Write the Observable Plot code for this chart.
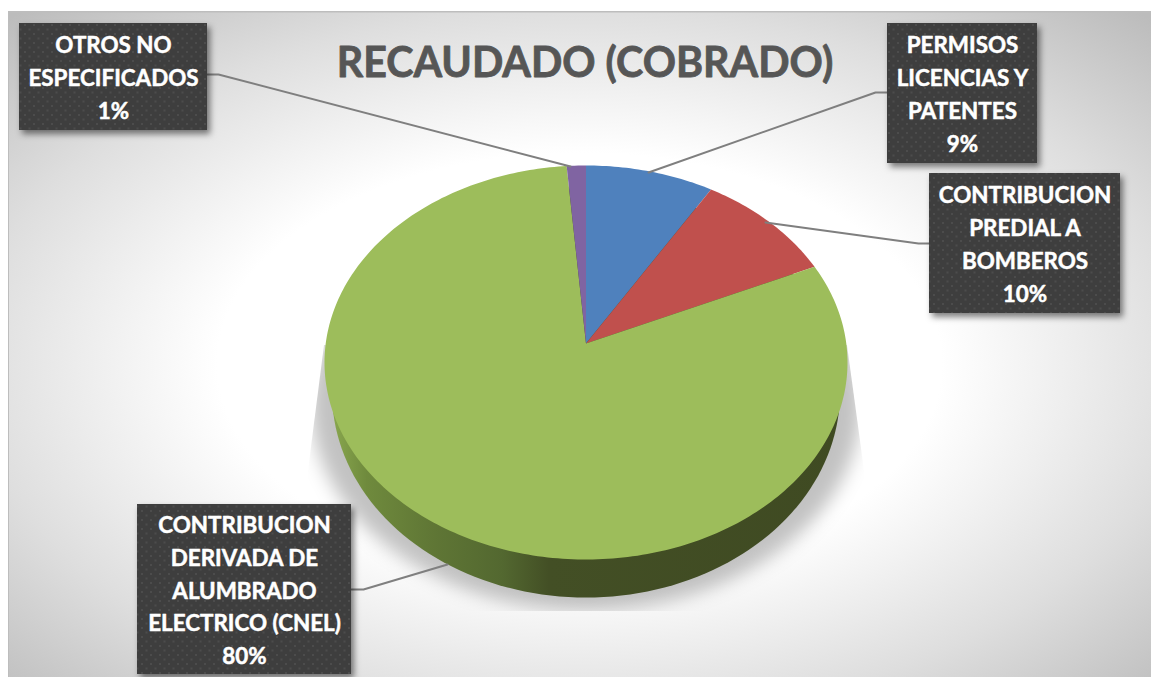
<!DOCTYPE html>
<html>
<head>
<meta charset="utf-8">
<script src="https://cdn.jsdelivr.net/npm/d3@7"></script>
<script src="https://cdn.jsdelivr.net/npm/@observablehq/plot@0.6"></script>
<style>
html,body{margin:0;padding:0;background:#fff;overflow:hidden}
svg{display:block}
</style>
</head>
<body>
<div id="chart"></div>
<script>
// ---- data ----
const chartTitle = "RECAUDADO (COBRADO)";
const categories = ["PERMISOS", "PREDIAL", "CNEL", "OTROS"];
const labelLines = [
  "PERMISOS\nLICENCIAS Y\nPATENTES",
  "CONTRIBUCION\nPREDIAL A\nBOMBEROS",
  "CONTRIBUCION\nDERIVADA DE\nALUMBRADO\nELECTRICO (CNEL)",
  "OTROS NO\nESPECIFICADOS"
];
const shares = [8.7, 9.6, 80.4, 1.3];
const sliceColors = ["#4f81bd", "#c0504d", "#9dbd5b", "#8064a2"];

// ---- layout (screen pixels, converted through the inverse of the plot's scales) ----
const W = 1151, H = 677;
const pie = {x0: 324, x1: 847, y0: 165, y1: 559, tilt: -0.0964};
const toU = d3.scaleLinear([pie.x0, pie.x1], [-1, 1]);
const toV = d3.scaleLinear([pie.y0, pie.y1], [-1, 1]);
const boxes = [
  {x1: 887, x2: 1037, y1: 23, y2: 163},
  {x1: 929, x2: 1120, y1: 173, y2: 313},
  {x1: 137, x2: 351, y1: 504, y2: 674},
  {x1: 19, x2: 207, y1: 23, y2: 130}
];
const leaders = [
  [[887, 92], [875, 92], [648, 172]],
  [[929, 243], [918, 243], [765, 222]],
  [[351, 589], [363, 589], [447, 564]],
  [[207, 74], [218, 74], [570, 166]]
];

// ---- geometry derived from the shares ----
function rimPoint(frac) {
  const a = 2 * Math.PI * frac, u = Math.sin(a), v = -Math.cos(a), k = pie.tilt;
  const d = 1 + k * v;
  return {x: u * Math.sqrt(1 - k * k) / d, y: (v + k) / d};
}
const total = d3.sum(shares);
let running = 0;
const slicePts = categories.flatMap((c, i) => {
  const from = running / total; running += shares[i]; const to = running / total;
  const n = Math.max(4, Math.ceil((to - from) * 360));
  const pts = [{x: 0, y: pie.tilt}];
  for (let j = 0; j <= n; j++) pts.push(rimPoint(from + (to - from) * j / n));
  return pts.map(p => ({...p, category: c}));
});
function ellipse(cx, cy, rx, ry) {
  return d3.range(0, 361, 2).map(t => {
    const a = t * Math.PI / 180;
    return {x: toU(cx) + rx / 261.5 * Math.cos(a), y: toV(cy) + ry / 197 * Math.sin(a)};
  });
}
const rimSide = ellipse(585.5, 392, 254, 205);
const shadowShape = ellipse(585.5, 404, 275, 205);
const boxData = boxes.map((b, i) => ({
  x1: toU(b.x1), x2: toU(b.x2), y1: toV(b.y1), y2: toV(b.y2),
  cx: toU((b.x1 + b.x2) / 2), cy: toV((b.y1 + b.y2) / 2 - 1.5),
  text: labelLines[i] + "\n" + Math.round(shares[i]) + "%"
}));
const leaderPts = leaders.flatMap((l, i) => l.map(p => ({x: toU(p[0]), y: toV(p[1]), id: i})));

const defs = () => {
  const g = document.createElementNS("http://www.w3.org/2000/svg", "defs");
  g.innerHTML = `
  <radialGradient id="bgGrad" cx="0.5" cy="0.53" r="0.72" gradientUnits="objectBoundingBox">
    <stop offset="0" stop-color="#ffffff"/>
    <stop offset="0.44" stop-color="#ffffff"/>
    <stop offset="0.74" stop-color="#dedede"/>
    <stop offset="1" stop-color="#bcbcbc"/>
  </radialGradient>
  <linearGradient id="sideGrad" gradientUnits="userSpaceOnUse" x1="330" x2="850" y1="0" y2="0">
    <stop offset="0" stop-color="#8aa84f"/>
    <stop offset="0.07" stop-color="#6f8a3d"/>
    <stop offset="0.2" stop-color="#5f7635"/>
    <stop offset="0.33" stop-color="#536830"/>
    <stop offset="0.42" stop-color="#434f25"/>
    <stop offset="1" stop-color="#3f4a22"/>
  </linearGradient>
  <pattern id="dots" width="9" height="9" patternUnits="userSpaceOnUse">
    <rect width="9" height="9" fill="#3e3e3e"/>
    <rect x="1.5" y="1.5" width="2" height="2" fill="#4c4c4c"/>
    <rect x="6" y="6" width="2" height="2" fill="#4c4c4c"/>
  </pattern>
  <clipPath id="shadowClip"><polygon points="324,345 308,470 300,611 870,611 864,470 847,345"/></clipPath>`;
  return g;
};
const clipWrap = (index, scales, values, dims, ctx, next) => {
  const node = next(index, scales, values, dims, ctx);
  const wrap = document.createElementNS("http://www.w3.org/2000/svg", "g");
  wrap.setAttribute("clip-path", "url(#shadowClip)");
  wrap.appendChild(node);
  return wrap;
};

const font = "Lato, Carlito, sans-serif";
const chart = Plot.plot({
  width: W, height: H, margin: 0,
  x: {domain: [-1, 1], range: [pie.x0, pie.x1], axis: null},
  y: {domain: [-1, 1], range: [pie.y0, pie.y1], axis: null},
  color: {domain: categories, range: sliceColors},
  style: {background: "#fff"},
  marks: [
    defs,
    Plot.rect([0], {x1: toU(8), x2: toU(W), y1: toV(11), y2: toV(H), fill: "url(#bgGrad)"}),
    Plot.rect([0], {x1: toU(8), x2: toU(W), y1: toV(11), y2: toV(12.5), fill: "#bdbdbd"}),
    Plot.rect([0], {x1: toU(8), x2: toU(9), y1: toV(11), y2: toV(H), fill: "#bdbdbd"}),
    Plot.line(shadowShape, {x: "x", y: "y", fill: "#000", fillOpacity: 0.24, stroke: "none", imageFilter: "blur(9px)", render: clipWrap}),
    Plot.line(rimSide, {x: "x", y: "y", fill: "url(#sideGrad)", stroke: "none"}),
    Plot.line(slicePts, {x: "x", y: "y", z: "category", fill: "category", stroke: "none"}),
    Plot.line(leaderPts, {x: "x", y: "y", z: "id", stroke: "#7f7f7f", strokeWidth: 2}),
    Plot.rect(boxData, {x1: "x1", x2: "x2", y1: "y1", y2: "y2", fill: "url(#dots)", imageFilter: "drop-shadow(3px 4px 3px rgba(0,0,0,0.5))"}),
    Plot.text(boxData, {x: "cx", y: "cy", text: "text", fill: "#fff", stroke: "#fff", strokeWidth: 0.5, fontFamily: font, fontWeight: 700, fontSize: 22.4, lineHeight: 1.463, lineAnchor: "middle", textAnchor: "middle"}),
    Plot.text([chartTitle], {x: toU(584.5), y: toV(63), text: d => d, fill: "#565656", stroke: "#565656", strokeWidth: 0.8, fontFamily: font, fontWeight: 700, fontSize: 41.2, lineAnchor: "middle", textAnchor: "middle"})
  ]
});
document.getElementById("chart").appendChild(chart);
</script>
</body>
</html>
